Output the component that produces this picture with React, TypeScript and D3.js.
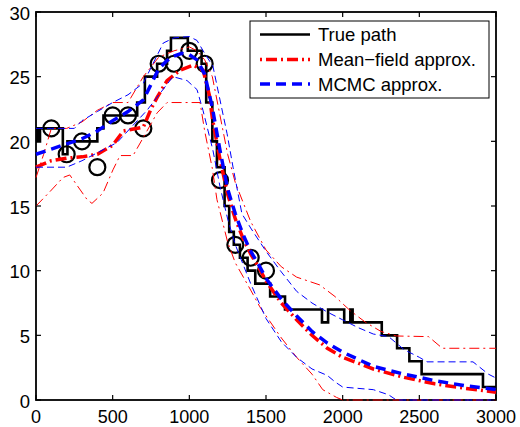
import React from "react";
import * as d3 from "d3";

// True state path (step function: value holds from x until the next x)
const trueX = [0, 8, 15, 26, 175, 205, 400, 440, 660, 710, 790, 855, 880, 990, 1080, 1110, 1150, 1180, 1230, 1260, 1290, 1330, 1380, 1430, 1527, 1624, 1865, 1905, 2010, 2050, 2065, 2255, 2355, 2435, 2515, 2915, 3000];
const trueY = [20, 21, 20, 21, 19, 20, 21, 22, 23, 25, 26, 27, 28, 27, 26, 23, 20, 18, 15, 13, 12, 11, 10, 9, 8, 7, 6, 7, 6, 7, 6, 5, 4, 3, 2, 1, 1];

// Noisy observations
const obsX = [100, 200, 300, 400, 500, 600, 700, 800, 900, 1000, 1100, 1200, 1300, 1400, 1500];
const obsY = [21, 19, 20, 18, 22, 22, 21, 26, 26, 27, 26, 17, 12, 11, 10];

// Mean-field approximation: mean and band
const mfX = [0, 100, 200, 300, 400, 500, 570, 700, 750, 790, 855, 940, 1025, 1090, 1130, 1150, 1200, 1250, 1300, 1350, 1400, 1450, 1500, 1600, 1700, 1800, 1900, 2000, 2200, 2400, 2600, 2800, 3000];
const mfMean = [18.0, 18.5, 18.7, 18.8, 19.0, 19.7, 20.8, 21.1, 22.5, 23.4, 24.7, 25.5, 25.9, 25.5, 23.6, 21.8, 18.6, 15.9, 14.0, 12.5, 11.3, 10.3, 9.2, 7.5, 6.2, 5.0, 4.0, 3.3, 2.4, 1.75, 1.25, 0.9, 0.6];
const mfUpX = [0, 50, 100, 200, 300, 400, 500, 600, 700, 800, 900, 1000, 1050, 1100, 1150, 1200, 1250, 1300, 1400, 1500, 1600, 1700, 1800, 1850, 1950, 2050, 2150, 2250, 2350, 2560, 2650, 3000];
const mfUp = [17.2, 19.0, 21.0, 21.0, 21.5, 22.4, 23.0, 23.0, 25.0, 26.5, 27.0, 27.3, 27.0, 26.3, 25.0, 22.0, 19.0, 16.8, 13.8, 11.6, 10.3, 9.5, 9.1, 8.9, 8.0, 6.9, 6.0, 5.3, 4.95, 4.9, 4.0, 4.0];
const mfLoX = [0, 90, 176, 220, 333, 365, 437, 502, 548, 633, 700, 790, 855, 1070, 1100, 1150, 1180, 1250, 1300, 1400, 1460, 1600, 1700, 1800, 1870, 1960, 2000, 3000];
const mfLo = [15.0, 16.1, 17.2, 17.4, 15.5, 15.2, 16.0, 17.8, 18.9, 18.9, 20.3, 22.2, 23.0, 23.0, 20.8, 17.9, 15.5, 12.2, 10.6, 8.5, 7.2, 4.8, 3.3, 2.0, 0.8, 0.2, 0, 0];

// MCMC approximation: mean and band
const mcX = [0, 100, 200, 300, 400, 500, 600, 700, 750, 800, 850, 900, 950, 1000, 1050, 1100, 1150, 1200, 1250, 1300, 1350, 1400, 1450, 1500, 1600, 1700, 1800, 1900, 2000, 2200, 2400, 2600, 2800, 3000];
const mcMean = [19.0, 19.4, 19.8, 20.2, 20.8, 21.6, 22.3, 23.2, 24.4, 25.6, 26.2, 26.6, 26.8, 26.7, 26.3, 25.2, 22.6, 19.3, 16.3, 14.4, 12.8, 11.5, 10.5, 9.4, 7.8, 6.5, 5.3, 4.4, 3.7, 2.6, 2.0, 1.5, 1.1, 0.8];
const mcUpX = [0, 100, 250, 300, 400, 500, 600, 700, 830, 900, 1000, 1050, 1100, 1154, 1200, 1246, 1285, 1317, 1343, 1400, 1500, 1600, 1700, 1800, 1900, 2000, 2100, 2200, 2300, 2400, 2500, 2550, 2850, 2950, 3000];
const mcUp = [21.0, 21.0, 21.0, 21.6, 22.3, 23.0, 23.6, 24.5, 27.6, 28.0, 28.1, 27.8, 26.8, 25.8, 23.2, 20.6, 18.0, 16.0, 14.4, 13.3, 11.5, 9.9, 8.4, 7.5, 6.8, 6.2, 5.6, 5.1, 4.9, 3.9, 3.3, 2.95, 2.95, 2.0, 1.7];
const mcLoX = [0, 200, 300, 528, 724, 789, 893, 985, 1050, 1089, 1154, 1200, 1250, 1300, 1400, 1500, 1600, 1700, 1800, 1900, 1950, 2000, 2100, 2200, 2300, 2350, 3000];
const mcLo = [18.0, 18.0, 18.5, 19.9, 22.4, 23.4, 25.0, 24.7, 24.0, 22.4, 19.3, 16.5, 14.0, 12.0, 9.0, 6.3, 4.5, 3.3, 2.4, 1.9, 1.4, 1.0, 0.9, 0.8, 0.4, 0, 0];

const xTicks = [0, 500, 1000, 1500, 2000, 2500, 3000];
const yTicks = [0, 5, 10, 15, 20, 25, 30];

const legendLabels = ["True path", "Mean\u2212field approx.", "MCMC approx."];

const W = 520;
const H = 427;
const plot = { left: 36, right: 496, top: 12, bottom: 400 };
const FONT = "'Liberation Sans', Arial, Helvetica, sans-serif";

const x = d3.scaleLinear().domain([0, 3000]).range([plot.left, plot.right]);
const y = d3.scaleLinear().domain([0, 30]).range([plot.bottom, plot.top]);

const zip = (xs: number[], ys: number[]) => xs.map((v, i) => [v, ys[i]] as [number, number]);

const line = d3
  .line<[number, number]>()
  .x((d) => x(d[0]))
  .y((d) => y(d[1]));

const stepLine = d3
  .line<[number, number]>()
  .x((d) => x(d[0]))
  .y((d) => y(d[1]))
  .curve(d3.curveStepAfter);

const RED = "#ff0000";
const BLUE = "#0000ff";

export default function App() {
  const tickLen = 5;
  return (
    <svg
      width={W}
      height={H}
      style={{ position: "absolute", left: 0, top: 0, background: "#fff" }}
      fontFamily={FONT}
    >
      <rect x={0} y={0} width={W} height={H} fill="#fff" />

      {/* axes box */}
      <rect
        x={plot.left}
        y={plot.top}
        width={plot.right - plot.left}
        height={plot.bottom - plot.top}
        fill="none"
        stroke="#000"
        strokeWidth={1.8}
      />

      {/* true path and observations */}
      <path d={stepLine(zip(trueX, trueY)) || ""} fill="none" stroke="#000" strokeWidth={2.6} />
      {obsX.map((v, i) => (
        <circle key={i} cx={x(v)} cy={y(obsY[i])} r={8} fill="none" stroke="#000" strokeWidth={2.2} />
      ))}

      {/* mean-field */}
      <path d={line(zip(mfX, mfMean)) || ""} fill="none" stroke={RED} strokeWidth={3.5} strokeDasharray="11,4,2,4" />
      <path d={line(zip(mfUpX, mfUp)) || ""} fill="none" stroke={RED} strokeWidth={1} strokeDasharray="10,4,2,4" />
      <path d={line(zip(mfLoX, mfLo)) || ""} fill="none" stroke={RED} strokeWidth={1} strokeDasharray="10,4,2,4" />

      {/* MCMC */}
      <path d={line(zip(mcX, mcMean)) || ""} fill="none" stroke={BLUE} strokeWidth={3.5} strokeDasharray="10,6" />
      <path d={line(zip(mcUpX, mcUp)) || ""} fill="none" stroke={BLUE} strokeWidth={1} strokeDasharray="7,4" />
      <path d={line(zip(mcLoX, mcLo)) || ""} fill="none" stroke={BLUE} strokeWidth={1} strokeDasharray="7,4" />

      {/* ticks on all four sides */}
      {xTicks.map((t) => (
        <g key={"x" + t}>
          <line x1={x(t)} x2={x(t)} y1={plot.bottom} y2={plot.bottom - tickLen} stroke="#000" strokeWidth={1.2} />
          <line x1={x(t)} x2={x(t)} y1={plot.top} y2={plot.top + tickLen} stroke="#000" strokeWidth={1.2} />
          <text x={x(t)} y={423} fontSize={18} textAnchor="middle" fill="#000">
            {t}
          </text>
        </g>
      ))}
      {yTicks.map((t) => (
        <g key={"y" + t}>
          <line x1={plot.left} x2={plot.left + tickLen} y1={y(t)} y2={y(t)} stroke="#000" strokeWidth={1.2} />
          <line x1={plot.right} x2={plot.right - tickLen} y1={y(t)} y2={y(t)} stroke="#000" strokeWidth={1.2} />
          <text x={30} y={y(t) + 7.5} fontSize={18.5} textAnchor="end" fill="#000">
            {t}
          </text>
        </g>
      ))}

      {/* legend */}
      <g>
        <rect x={250} y={21} width={239} height={77} fill="#fff" stroke="#000" strokeWidth={1} />
        <line x1={260} x2={310} y1={34.5} y2={34.5} stroke="#000" strokeWidth={2.6} />
        <line x1={260} x2={310} y1={59.5} y2={59.5} stroke={RED} strokeWidth={3.5} strokeDasharray="11,4,2,4" strokeDashoffset={-6} />
        <line x1={260} x2={310} y1={84} y2={84} stroke={BLUE} strokeWidth={3.5} strokeDasharray="10,6" />
        {legendLabels.map((l, i) => (
          <text key={l} x={318} y={[34.5, 59.5, 84][i] + 6.5} fontSize={18.5} fill="#000">
            {l}
          </text>
        ))}
      </g>
    </svg>
  );
}
